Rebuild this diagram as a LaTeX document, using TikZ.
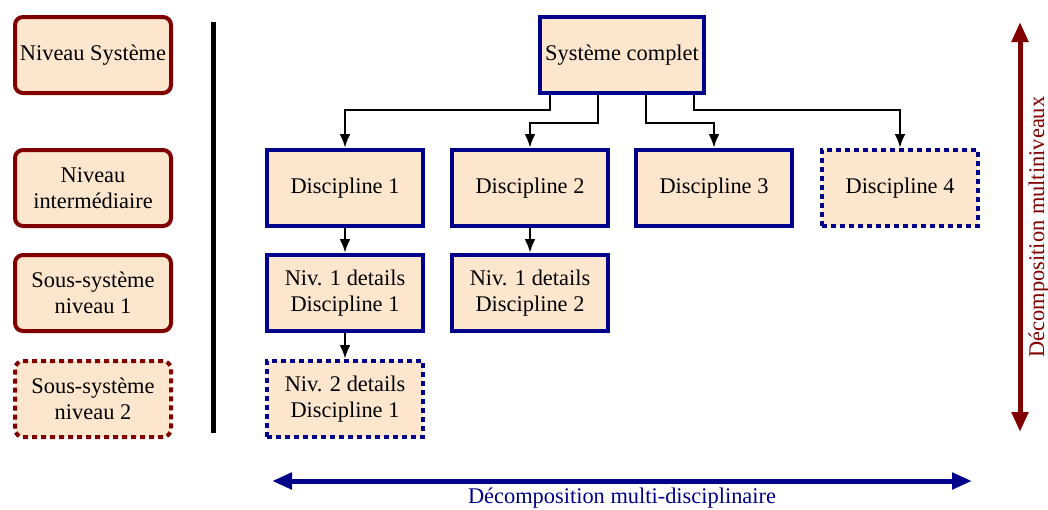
\documentclass[tikz,border=0pt]{standalone}
\usepackage{fontspec}
\setmainfont{Liberation Serif}
\usetikzlibrary{arrows.meta}
\definecolor{boxfill}{RGB}{253,230,206}
\definecolor{discblue}{RGB}{0,0,139}
\definecolor{levelred}{RGB}{128,0,0}

\begin{document}
\begin{tikzpicture}[x=0.5pt,y=-0.5pt,font=\fontsize{11.2pt}{13pt}\selectfont,
  disc/.style={draw=discblue,line width=2pt,fill=boxfill,minimum width=78pt,minimum height=38pt,align=center,inner sep=2pt},
  level/.style={disc,draw=levelred,rounded corners=4pt},
  future/.style={dash pattern=on 2.5pt off 2pt},
  conn/.style={line width=1.4pt,-{Latex[length=7pt,width=5.5pt]}},
  bigarrow/.style={line width=2.5pt,{Triangle[length=10pt,width=8pt]}-{Triangle[length=10pt,width=8pt]}}]
\useasboundingbox (0,0) rectangle (1048,509);
% levels
\node[level] (lsys) at (93,55) {Niveau Système};
\node[level] (linter) at (93,188) {Niveau\\intermédiaire};
\node[level] (lsub1) at (93,293) {Sous-système\\niveau 1};
\node[level,future] (lsub2) at (93,399) {Sous-système\\niveau 2};
\draw[line width=2.5pt] (213,22) -- (213,433);
% disciplines
\node[disc,minimum width=82pt] (sys) at (622,55) {Système complet};
\node[disc] (d1) at (345,188) {Discipline 1};
\node[disc] (d2) at (530,188) {Discipline 2};
\node[disc] (d3) at (714,188) {Discipline 3};
\node[disc,future] (d4) at (900,188) {Discipline 4};
\node[disc] (d1n1) at (345,293) {Niv. 1 details\\Discipline 1};
\node[disc] (d2n1) at (530,293) {Niv. 1 details\\Discipline 2};
\node[disc,future] (d1n2) at (345,399) {Niv. 2 details\\Discipline 1};
\draw[conn] ([xshift=-36pt]sys.south) -- ++(0,15) -| (d1.north);
\draw[conn] ([xshift=-12pt]sys.south) -- ++(0,28) -| (d2.north);
\draw[conn] ([xshift=12pt]sys.south) -- ++(0,28) -| (d3.north);
\draw[conn] ([xshift=36pt]sys.south) -- ++(0,15) -| (d4.north);
\draw[conn] (d1) -- (d1n1);
\draw[conn] (d2) -- (d2n1);
\draw[conn] (d1n1) -- (d1n2);
% axes
\coordinate (vtop) at (1020,22);
\coordinate (vbot) at (1020,432);
\coordinate (hleft) at (272,481);
\coordinate (hright) at (972,481);
\draw[bigarrow,levelred] (vtop) -- (vbot) node[midway,rotate=90,below,inner sep=3pt] (vlab) {Décomposition multiniveaux};
\draw[bigarrow,discblue] (hleft) -- (hright) node[midway,below,inner sep=2pt] (hlab) {Décomposition multi-disciplinaire};
\end{tikzpicture}
\end{document}
